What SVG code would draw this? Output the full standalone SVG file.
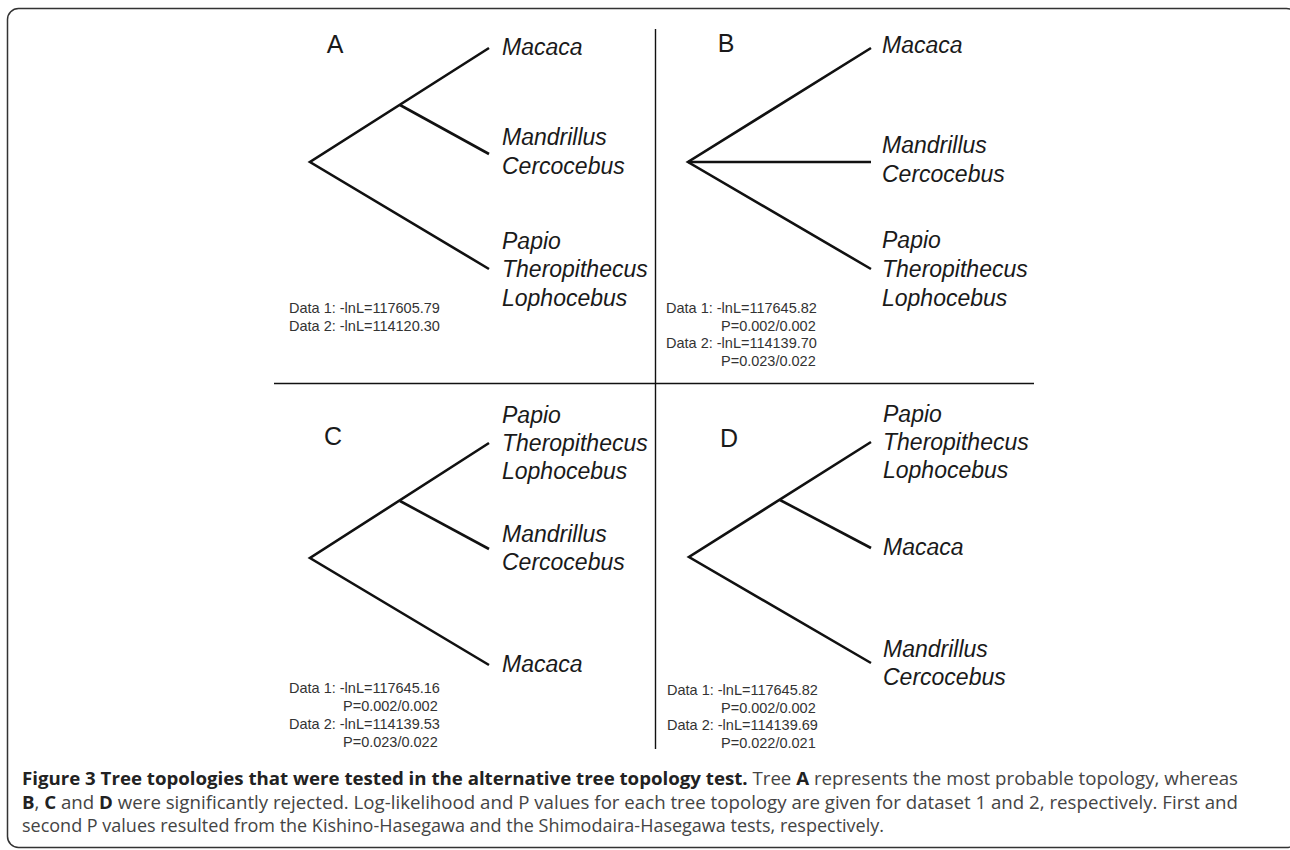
<svg xmlns="http://www.w3.org/2000/svg" width="1290" height="850" viewBox="0 0 1290 850">
<style>
.br{stroke:#111;stroke-width:2.6;fill:none;stroke-linecap:butt}
.div{stroke:#111;stroke-width:1.4;fill:none}
.tx{font-family:"Liberation Sans",Arial,sans-serif;font-style:italic;font-size:23px;fill:#1a1a1a}
.lt{font-family:"Liberation Sans",Arial,sans-serif;font-size:25px;fill:#1a1a1a}
.dt{font-family:"Liberation Sans",Arial,sans-serif;font-size:14.5px;fill:#333}
.cap{font-family:"Open Sans","Liberation Sans",sans-serif;font-size:18px;fill:#444}
.cb{font-weight:bold;fill:#222}
</style>
<rect x="7.5" y="8.5" width="1290" height="839" rx="11" ry="11" fill="#fff" stroke="#333" stroke-width="1.5"/>
<g id="dividers" class="div">
<line x1="655.5" y1="29" x2="655.5" y2="749"/>
<line x1="274" y1="383.5" x2="1034" y2="383.5"/>
</g>
<g id="connectors" class="br">
<polyline points="489,48 310,162 489,269"/>
<line x1="400" y1="105" x2="489" y2="154"/>
<polyline points="871,48 688,162 871,269"/>
<line x1="688" y1="162" x2="871" y2="162"/>
<polyline points="489,443 310,558 489,665"/>
<line x1="400" y1="501" x2="489" y2="549"/>
<polyline points="871,442 689,557 871,663"/>
<line x1="780" y1="500" x2="871" y2="548"/>
</g>
<g id="treeA">
<text class="lt" x="335" y="53" text-anchor="middle">A</text>
<text class="tx" x="502" y="55">Macaca</text>
<text class="tx" x="502" y="145">Mandrillus</text>
<text class="tx" x="502" y="174">Cercocebus</text>
<text class="tx" x="502" y="249">Papio</text>
<text class="tx" x="502" y="277">Theropithecus</text>
<text class="tx" x="502" y="306">Lophocebus</text>
<text class="dt" x="289" y="313">Data 1: -lnL=117605.79</text>
<text class="dt" x="289" y="331">Data 2: -lnL=114120.30</text>
</g>
<g id="treeB">
<text class="lt" x="726" y="52" text-anchor="middle">B</text>
<text class="tx" x="882" y="53">Macaca</text>
<text class="tx" x="882" y="153">Mandrillus</text>
<text class="tx" x="882" y="182">Cercocebus</text>
<text class="tx" x="882" y="248">Papio</text>
<text class="tx" x="882" y="277">Theropithecus</text>
<text class="tx" x="882" y="306">Lophocebus</text>
<text class="dt" x="666" y="313">Data 1: -lnL=117645.82</text>
<text class="dt" x="721" y="331">P=0.002/0.002</text>
<text class="dt" x="666" y="348">Data 2: -lnL=114139.70</text>
<text class="dt" x="721" y="366">P=0.023/0.022</text>
</g>
<g id="treeC">
<text class="lt" x="333" y="445" text-anchor="middle">C</text>
<text class="tx" x="502" y="423">Papio</text>
<text class="tx" x="502" y="451">Theropithecus</text>
<text class="tx" x="502" y="479">Lophocebus</text>
<text class="tx" x="502" y="542">Mandrillus</text>
<text class="tx" x="502" y="570">Cercocebus</text>
<text class="tx" x="502" y="672">Macaca</text>
<text class="dt" x="289" y="693">Data 1: -lnL=117645.16</text>
<text class="dt" x="343" y="711">P=0.002/0.002</text>
<text class="dt" x="289" y="729">Data 2: -lnL=114139.53</text>
<text class="dt" x="343" y="747">P=0.023/0.022</text>
</g>
<g id="treeD">
<text class="lt" x="729" y="447" text-anchor="middle">D</text>
<text class="tx" x="883" y="422">Papio</text>
<text class="tx" x="883" y="450">Theropithecus</text>
<text class="tx" x="883" y="478">Lophocebus</text>
<text class="tx" x="883" y="555">Macaca</text>
<text class="tx" x="883" y="657">Mandrillus</text>
<text class="tx" x="883" y="685">Cercocebus</text>
<text class="dt" x="667" y="695">Data 1: -lnL=117645.82</text>
<text class="dt" x="721" y="713">P=0.002/0.002</text>
<text class="dt" x="667" y="730">Data 2: -lnL=114139.69</text>
<text class="dt" x="721" y="748">P=0.022/0.021</text>
</g>
<g id="caption">
<text class="cap" x="22" y="785" textLength="1216" lengthAdjust="spacingAndGlyphs"><tspan class="cb">Figure 3 Tree topologies that were tested in the alternative tree topology test.</tspan> Tree <tspan class="cb">A</tspan> represents the most probable topology, whereas</text>
<text class="cap" x="22" y="809" textLength="1216" lengthAdjust="spacingAndGlyphs"><tspan class="cb">B</tspan>, <tspan class="cb">C</tspan> and <tspan class="cb">D</tspan> were significantly rejected. Log-likelihood and P values for each tree topology are given for dataset 1 and 2, respectively. First and</text>
<text class="cap" x="22" y="832" textLength="862" lengthAdjust="spacingAndGlyphs">second P values resulted from the Kishino-Hasegawa and the Shimodaira-Hasegawa tests, respectively.</text>
</g>
</svg>
